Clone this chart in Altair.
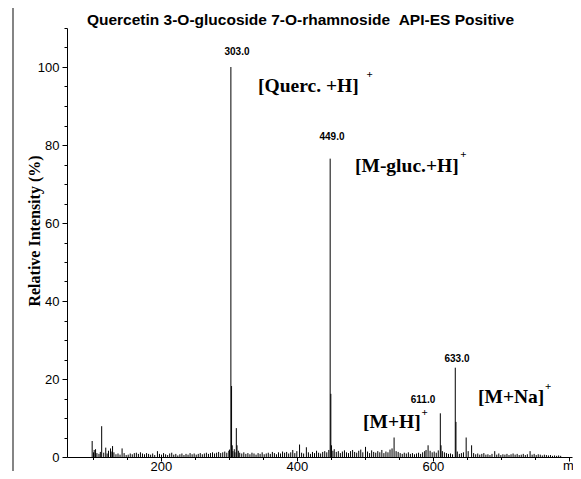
import altair as alt
import pandas as pd

# ---- main peaks (m/z, relative intensity %) ----
peak_mz = [99, 102, 113, 119, 126, 129, 143, 195, 303, 304, 305, 311, 312, 394, 404, 414,
           449, 450, 451, 501, 543, 593, 611, 612, 633, 634, 649, 657, 691, 743]
peak_int = [4.1, 1.8, 7.9, 2.4, 2.2, 2.8, 2.2, 1.5, 100, 18.2, 3.0, 7.4, 3.0, 1.8, 3.2, 2.5,
            76.5, 16.2, 3.0, 2.6, 5.0, 3.0, 11.2, 3.0, 22.9, 9.0, 5.0, 3.0, 1.5, 1.5]

# ---- baseline noise ----
noise_mz = [101, 104, 106, 109, 111, 116, 121, 123, 128, 131, 134, 137, 140, 146, 149, 152,
            155, 158, 161, 164, 167, 170, 173, 176, 179, 182, 185, 188, 191, 198, 201, 204,
            207, 210, 213, 216, 219, 222, 225, 228, 231, 234, 237, 240, 243, 246, 249, 252,
            255, 258, 261, 264, 267, 270, 273, 276, 279, 282, 285, 288, 291, 294, 297, 300,
            301, 306, 308, 309, 314, 316, 319, 322, 325, 328, 331, 334, 337, 340, 343, 346,
            349, 352, 355, 358, 361, 364, 367, 370, 373, 376, 379, 382, 385, 388, 391, 397,
            400, 407, 410, 417, 420, 423, 426, 429, 432, 435, 438, 441, 444, 447, 453, 455,
            458, 461, 464, 467, 470, 473, 476, 479, 482, 485, 488, 491, 494, 497, 504, 507,
            510, 513, 516, 519, 522, 525, 528, 531, 534, 537, 540, 546, 549, 552, 555, 558,
            561, 564, 567, 570, 573, 576, 579, 582, 585, 588, 590, 596, 599, 602, 605, 608,
            614, 617, 620, 623, 626, 629, 636, 639, 642, 645, 652, 660, 663, 666, 669, 672,
            675, 678, 681, 684, 687, 694, 697, 700, 703, 706, 709, 712, 715, 718, 721, 724,
            727, 730, 733, 736, 739, 746, 749, 752, 755, 758, 761, 764, 767, 770, 773, 776,
            779, 782, 785, 788]
noise_int = [1.2, 2.0, 1.0, 0.8, 1.3, 1.1, 0.9, 1.6, 1.4, 1.2, 0.7, 0.9, 0.6, 1.0, 0.5, 0.6,
             0.9, 0.7, 1.0, 1.1, 0.8, 1.2, 0.9, 0.7, 1.0, 0.8, 0.6, 0.9, 0.5, 0.8, 0.6, 1.0,
             0.7, 0.5, 0.9, 1.1, 0.6, 0.8, 0.4, 0.7, 0.9, 0.5, 0.8, 0.6, 1.0, 0.7, 0.9, 0.6,
             0.8, 1.0, 0.7, 0.9, 1.1, 0.8, 1.0, 1.2, 0.9, 1.1, 1.3, 1.0, 1.2, 1.4, 1.1, 1.6,
             1.9, 1.5, 2.0, 1.2, 1.6, 1.1, 0.9, 1.2, 0.8, 1.0, 0.7, 1.1, 0.9, 0.6, 1.0, 0.8,
             1.2, 0.7, 0.9, 1.1, 0.8, 1.3, 1.0, 0.7, 1.2, 0.9, 1.4, 1.1, 1.3, 0.9, 1.2, 1.0,
             1.5, 1.1, 0.9, 1.2, 0.8, 1.3, 1.0, 1.6, 1.1, 0.9, 1.3, 1.5, 1.2, 1.8, 1.6, 2.0,
             1.3, 1.5, 1.0, 1.4, 1.7, 1.2, 1.0, 1.5, 1.8, 1.3, 1.1, 1.6, 1.9, 1.2, 1.4, 1.0,
             1.7, 1.3, 1.1, 1.5, 1.2, 1.8, 1.0, 1.4, 1.2, 1.9, 2.2, 1.5, 1.3, 1.0, 0.8, 1.1,
             0.9, 1.2, 0.8, 1.0, 0.7, 0.9, 1.1, 0.8, 1.2, 1.5, 1.8, 1.6, 1.2, 1.4, 1.1, 1.7,
             1.5, 1.2, 1.0, 0.8, 0.9, 0.7, 1.4, 0.8, 1.0, 1.2, 1.5, 1.0, 0.7, 0.9, 0.6, 0.8,
             1.0, 0.6, 0.7, 0.5, 0.8, 0.6, 0.9, 0.5, 0.7, 0.6, 0.8, 0.5, 0.7, 0.9, 0.6, 0.8,
             0.5, 0.6, 0.8, 0.5, 0.7, 0.6, 0.8, 0.5, 0.7, 0.6, 0.4, 0.6, 0.5, 0.4, 0.5, 0.3,
             0.4, 0.3, 0.4, 0.3]

# ---- annotations ----
peak_label_text = ["303.0", "449.0", "611.0", "633.0"]
peak_label_mz = [312.0, 451.7, 585.5, 635.5]
peak_label_y = [103.1, 81.3, 13.8, 24.4]

ion_text = ["[Querc. +H]", "[M-gluc.+H]", "[M+H]", "[M+Na]"]
ion_mz = [342.9, 485.5, 497.3, 666.4]
ion_y = [93.6, 73.1, 7.4, 13.8]
sup_mz = [507.0, 645.0, 588.0, 769.4]
sup_y = [97.9, 77.4, 11.3, 17.9]

x_major = [200, 400, 600, 800]
x_minor = [100, 150, 250, 300, 350, 450, 500, 550, 650, 700, 750]
y_major = [0, 20, 40, 60, 80, 100]
y_minor = [5, 10, 15, 25, 30, 35, 45, 50, 55, 65, 70, 75, 85, 90, 95, 105, 110]

title_text = "Quercetin 3-O-glucoside 7-O-rhamnoside \u00a0API-ES Positive"
ytitle_text = "Relative Intensity (%)"

spec = pd.DataFrame({"mz": peak_mz + noise_mz, "inten": peak_int + noise_int})
plabels = pd.DataFrame({"t": peak_label_text, "mz": peak_label_mz, "y": peak_label_y})
ions = pd.DataFrame({"t": ion_text, "mz": ion_mz, "y": ion_y})
sups = pd.DataFrame({"mz": sup_mz, "y": sup_y})
one = pd.DataFrame({"a": [0]})

W, H = 505, 429
xs = alt.Scale(domain=[62, 62 + W / 0.68], nice=False, zero=False)
ys = alt.Scale(domain=[0, 110], nice=False, zero=False)

x_axis = alt.Axis(values=x_major, labelExpr="datum.value == 800 ? '' : datum.label",
                  tickSize=4, labelPadding=-1, labelFontSize=13, labelFont="Liberation Sans",
                  labelColor="black", domainColor="black", tickColor="black",
                  title=None, grid=False, orient="bottom", labelFlush=False)
y_axis = alt.Axis(values=y_major, tickSize=5, labelPadding=3, labelFontSize=13,
                  labelFont="Liberation Sans", labelColor="black", domainColor="black",
                  tickColor="black", title=None, grid=False, orient="left")

spectrum = alt.Chart(spec).mark_rule(color="black", strokeWidth=1).encode(
    x=alt.X("mz:Q", scale=xs, axis=x_axis),
    y=alt.Y("inten:Q", scale=ys, axis=y_axis),
    y2=alt.datum(0),
)

minor = alt.Chart(spec).mark_point(opacity=0).encode(
    x=alt.X("mz:Q", scale=xs, axis=alt.Axis(values=x_minor, labels=False, domain=False,
                                           tickSize=2.5, tickColor="black", title=None,
                                           grid=False, orient="bottom")),
    y=alt.Y("inten:Q", scale=ys, axis=alt.Axis(values=y_minor, labels=False, domain=False,
                                              tickSize=3, tickColor="black", title=None,
                                              grid=False, orient="left")),
)

peak_text = alt.Chart(plabels).mark_text(
    font="Liberation Sans", fontWeight="bold", fontSize=10, color="black",
    align="center", baseline="alphabetic"
).encode(x=alt.X("mz:Q", scale=xs, axis=None), y=alt.Y("y:Q", scale=ys, axis=None), text="t:N")

ion_labels = alt.Chart(ions).mark_text(
    font="Liberation Serif", fontWeight="bold", fontSize=19.5, color="black",
    align="left", baseline="alphabetic"
).encode(x=alt.X("mz:Q", scale=xs, axis=None), y=alt.Y("y:Q", scale=ys, axis=None), text="t:N")

sup_labels = alt.Chart(sups).mark_text(
    font="Liberation Serif", fontWeight="bold", fontSize=11, color="black",
    align="center", baseline="middle", text="+"
).encode(x=alt.X("mz:Q", scale=xs, axis=None), y=alt.Y("y:Q", scale=ys, axis=None))

title = alt.Chart(one).mark_text(
    font="Liberation Sans", fontWeight="bold", fontSize=15.5, color="black",
    align="center", baseline="alphabetic", text=title_text
).encode(x=alt.value(233.5), y=alt.value(-3))

ytitle = alt.Chart(one).mark_text(
    font="Liberation Serif", fontWeight="bold", fontSize=16, color="black",
    align="center", baseline="middle", angle=270, text=ytitle_text
).encode(x=alt.value(-32), y=alt.value(203))

mz_label = alt.Chart(one).mark_text(
    font="Liberation Sans", fontSize=13, color="black",
    align="left", baseline="top", text="m/z"
).encode(x=alt.value(496), y=alt.value(432))

frame_left = alt.Chart(one).mark_rule(color="#333333", strokeWidth=1.2).encode(
    x=alt.value(-54), y=alt.value(-21), y2=alt.value(445))
frame_top = alt.Chart(one).mark_rule(color="#333333", strokeWidth=1.2).encode(
    x=alt.value(-54), x2=alt.value(400), y=alt.value(-21))

chart = alt.layer(
    spectrum, minor, peak_text, ion_labels, sup_labels, title, ytitle, mz_label,
    frame_left, frame_top
).resolve_axis(x="independent", y="independent").properties(
    width=W, height=H,
    autosize=alt.AutoSizeParams(type="none"),
    padding={"left": 59, "top": 20, "right": 1, "bottom": 14},
).configure_view(stroke=None).configure_axis(grid=False)

chart.save("out.html", embed_options={"renderer": "svg", "actions": False})
